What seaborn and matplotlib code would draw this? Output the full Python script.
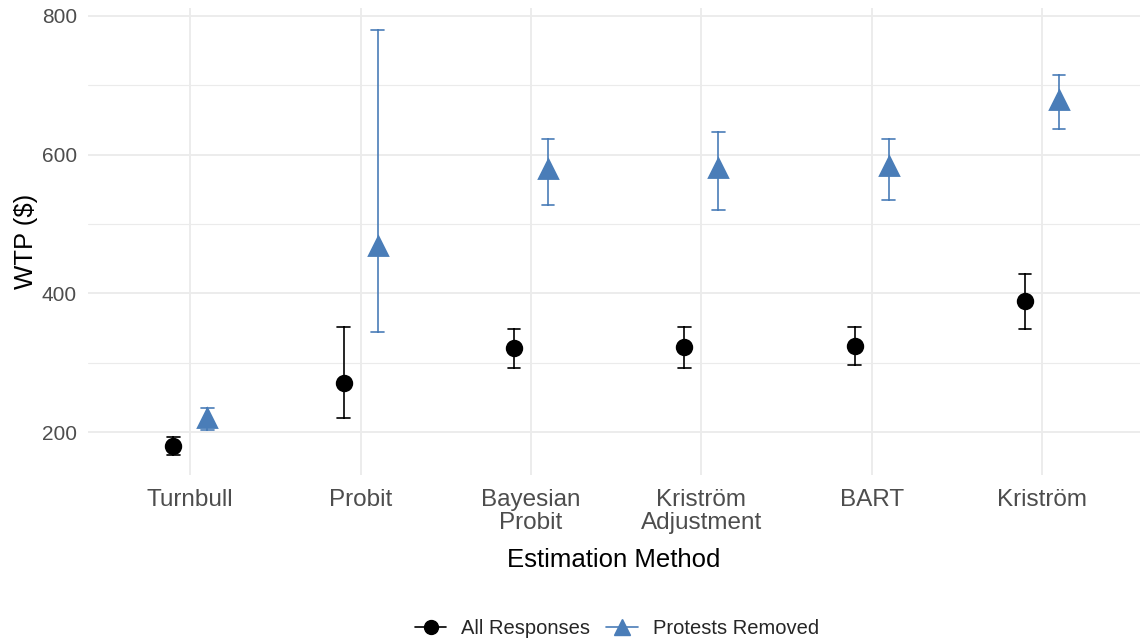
import numpy as np
import pandas as pd
import matplotlib
matplotlib.use("Agg")
import matplotlib.pyplot as plt
from matplotlib.lines import Line2D
from matplotlib.ticker import MultipleLocator
import seaborn as sns

# Estimation methods and WTP estimates with interval bounds
methods = ["Turnbull", "Probit", "Bayesian\nProbit", "Kriström\nAdjustment", "BART", "Kriström"]
groups = ["All Responses", "Protests Removed"]

all_est = [180, 271, 321, 323, 325, 389]
all_lo = [167, 220, 293, 293, 297, 349]
all_hi = [194, 351, 349, 351, 351, 428]

prot_est = [221, 468, 579, 580, 584, 679]
prot_lo = [204, 345, 528, 520, 534, 637]
prot_hi = [235, 780, 623, 633, 623, 714]

BLACK = "#000000"
BLUE = "#4A7DB8"

# Long table: lower bound, estimate and upper bound per method/group.
# The median of the three is the estimate; the full range gives the interval.
rows = []
for grp, est, lo, hi in [(groups[0], all_est, all_lo, all_hi),
                         (groups[1], prot_est, prot_lo, prot_hi)]:
    for m, e, l, h in zip(methods, est, lo, hi):
        for v in (l, e, h):
            rows.append({"method": m, "group": grp, "wtp": v})
df = pd.DataFrame(rows)

sns.set_theme(style="whitegrid")
plt.rcParams["font.family"] = ["Liberation Sans", "DejaVu Sans"]

fig = plt.figure(figsize=(11.4, 6.44), dpi=100)
ax = fig.add_axes([88 / 1140, 1 - 475 / 644, 1 - 88 / 1140, (475 - 8) / 644])

sns.pointplot(
    data=df, x="method", y="wtp", hue="group", order=methods, hue_order=groups,
    estimator="median", errorbar=("pi", 100), dodge=0.2,
    markers=["o", "^"], linestyles="none", palette=[BLACK, BLUE],
    capsize=0.075, err_kws={"linewidth": 1.2}, markersize=10.5,
    legend=False, ax=ax,
)

# Slightly larger triangles for the protest-removed series
for ln in ax.lines:
    if ln.get_marker() == "^":
        ln.set_markersize(12.5)

ax.set_xlim(-0.6, 5.575)
ax.set_ylim(138.6, 811)
ax.yaxis.set_major_locator(MultipleLocator(200))
ax.yaxis.set_minor_locator(MultipleLocator(100))

ax.set_facecolor("white")
ax.grid(False)
ax.grid(which="major", axis="both", color="#EBEBEB", linewidth=1.3, zorder=0)
ax.grid(which="minor", axis="y", color="#EBEBEB", linewidth=0.8, zorder=0)
ax.set_axisbelow(True)
for s in ax.spines.values():
    s.set_visible(False)

ax.tick_params(axis="both", which="both", length=0, colors="#4D4D4D")
ax.tick_params(axis="x", labelsize=17.5, pad=10)
ax.tick_params(axis="y", labelsize=15, pad=8)
for lab in ax.get_xticklabels():
    lab.set_linespacing(1.05)

ax.set_xlabel("Estimation Method", fontsize=18.5, color="black", labelpad=10)
ax.set_ylabel("WTP ($)", fontsize=18.5, color="black", labelpad=3)

handles = [
    Line2D([], [], color=BLACK, marker="o", markersize=10, linewidth=1.2),
    Line2D([], [], color=BLUE, marker="^", markersize=12, linewidth=1.2),
]
fig.legend(handles, groups, loc="center", bbox_to_anchor=(617 / 1140, 1 - 629 / 644),
           ncol=2, frameon=False, fontsize=14.5, handlelength=1.55, handletextpad=0.75,
           columnspacing=0.8)

fig.savefig("out.png", dpi=100, facecolor="white")
